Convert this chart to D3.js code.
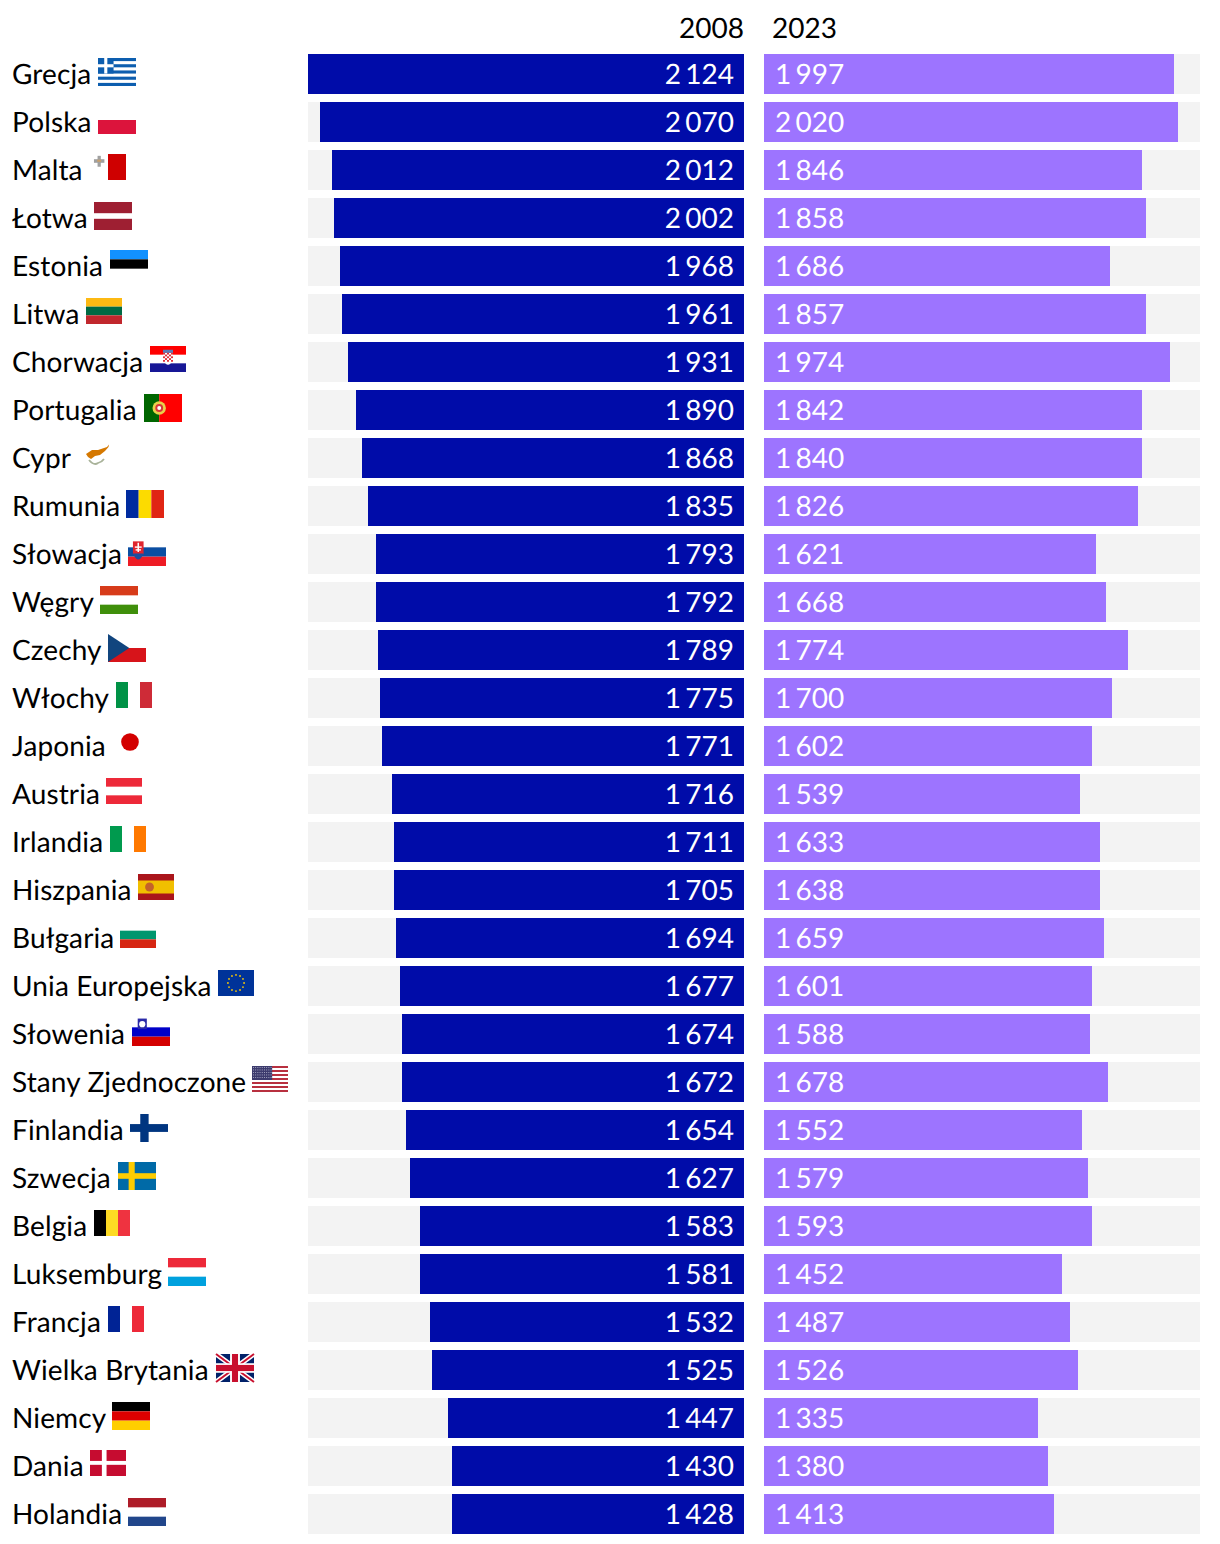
<!DOCTYPE html>
<html><head><meta charset="utf-8">
<script src="https://cdn.jsdelivr.net/npm/d3@7"></script>
<style>html,body{margin:0;padding:0;background:#fff}svg{display:block}text{font-family:Lato,sans-serif;font-size:28px;text-rendering:geometricPrecision}.val{word-spacing:-3px}.lab{letter-spacing:.12px}</style>
</head><body><svg id="c" width="1220" height="1544"></svg>
<script>
const countries=["Grecja","Polska","Malta","Łotwa","Estonia","Litwa","Chorwacja","Portugalia","Cypr","Rumunia","Słowacja","Węgry","Czechy","Włochy","Japonia","Austria","Irlandia","Hiszpania","Bułgaria","Unia Europejska","Słowenia","Stany Zjednoczone","Finlandia","Szwecja","Belgia","Luksemburg","Francja","Wielka Brytania","Niemcy","Dania","Holandia"];
const flagCodes=["gr","pl","mt","lv","ee","lt","hr","pt","cy","ro","sk","hu","cz","it","jp","at","ie","es","bg","eu","si","us","fi","se","be","lu","fr","gb","de","dk","nl"];
const values2008=[2124,2070,2012,2002,1968,1961,1931,1890,1868,1835,1793,1792,1789,1775,1771,1716,1711,1705,1694,1677,1674,1672,1654,1627,1583,1581,1532,1525,1447,1430,1428];
const values2023=[1997,2020,1846,1858,1686,1857,1974,1842,1840,1826,1621,1668,1774,1700,1602,1539,1633,1638,1659,1601,1588,1678,1552,1579,1593,1452,1487,1526,1335,1380,1413];
const seriesYears=["2008","2023"];
const narrowFlags=["mt","lt","hr","it","at","ie","es","bg","eu","us","be","fr","dk","jp","cy"];

const colors={left:"#000ca9",right:"#9d74ff",track:"#f3f3f3"};
const svg=d3.select("#c");
const fmt=d3.formatLocale({decimal:",",thousands:"\u00a0",grouping:[3],currency:["",""]}).format(",d");
const y=d3.scaleBand().domain(countries).range([54,1534]).paddingInner(1/6);
const w=d3.scaleLinear().domain([0,2124]).range([0,436]);
const leftEnd=744,rightStart=764;
const leftX=v=>Math.round(leftEnd/2+0.33-w(v)/2)*2;
const rightW=v=>Math.round(w(v)/2)*2;

[308,rightStart].forEach(x=>svg.append("g").selectAll("rect").data(countries).join("rect")
  .attr("x",x).attr("y",d=>y(d)).attr("width",436).attr("height",y.bandwidth()).attr("fill",colors.track));
svg.append("g").selectAll("rect").data(values2008).join("rect")
  .attr("x",d=>leftX(d)).attr("y",(d,i)=>y(countries[i])).attr("width",d=>leftEnd-leftX(d)).attr("height",y.bandwidth()).attr("fill",colors.left);
svg.append("g").selectAll("rect").data(values2023).join("rect")
  .attr("x",rightStart).attr("y",(d,i)=>y(countries[i])).attr("width",d=>rightW(d)).attr("height",y.bandwidth()).attr("fill",colors.right);
svg.append("g").selectAll("text").data(values2008).join("text").attr("class","val").text(d=>fmt(d))
  .attr("x",leftEnd-10).attr("y",(d,i)=>y(countries[i])+30).attr("text-anchor","end").attr("fill","#fff");
svg.append("g").selectAll("text").data(values2023).join("text").attr("class","val").text(d=>fmt(d))
  .attr("x",rightStart+11).attr("y",(d,i)=>y(countries[i])+30).attr("fill","#fff");
svg.append("text").text(seriesYears[0]).attr("x",leftEnd).attr("y",38).attr("text-anchor","end").attr("fill","#000");
svg.append("text").text(seriesYears[1]).attr("x",772).attr("y",38).attr("fill","#000");

function star(g,cx,cy,r,f){g.append("circle").attr("cx",cx).attr("cy",cy).attr("r",r).attr("fill",f);}
function R(g,x,y,w,h,f){g.append("rect").attr("x",x).attr("y",y).attr("width",w).attr("height",h).attr("fill",f);}
function hs(g,W,H,cs){cs.forEach((c,i)=>{if(c)R(g,0,H*i/cs.length,W,H/cs.length,c);});}
function vs(g,W,H,cs){cs.forEach((c,i)=>{if(c)R(g,W*i/cs.length,0,W/cs.length,H,c);});}
const painters={
 gr(g,W,H){const s=H/9;for(let i=0;i<9;i+=2)R(g,0,i*s,W,s,"#0d5eaf");R(g,0,0,5*s,5*s,"#0d5eaf");R(g,2*s,0,s,5*s,"#fff");R(g,0,2*s,5*s,s,"#fff");},
 pl(g,W,H){R(g,0,H/2,W,H/2,"#dc143c");},
 mt(g,W,H){R(g,W/2,0,W/2,H,"#cf0000");R(g,W*.11,H*.2,W*.29,H*.1+1,"#a0a0a0");R(g,W*.21,H*.07,W*.09,H*.42,"#a0a0a0");R(g,W*.2,H*.22,W*.11,H*.08,"#c9a06c");},
 lv(g,W,H){R(g,0,0,W,H*.4,"#9e1f32");R(g,0,H*.6,W,H*.4,"#9e1f32");},
 ee(g,W,H){hs(g,W,H,["#1291ff","#000",null]);},
 lt(g,W,H){hs(g,W,H,["#fdb913","#006a44","#c1272d"]);},
 hr(g,W,H){hs(g,W,H,["#f00",null,"#171796"]);const s=2,x0=W/2-2.5*s,y0=H*.26;R(g,x0,y0,5*s,3.6*s,"#fff");g.append("path").attr("d",`M${x0} ${y0+3.6*s} Q${W/2} ${H*.9} ${x0+5*s} ${y0+3.6*s} Z`).attr("fill","#fff");for(let i=0;i<5;i++)for(let j=0;j<5;j++)if((i+j)%2==0)R(g,x0+i*s,y0+j*s*.9,s,s*.9,"#e0313a");R(g,x0,y0-3,5*s,3,"#5a7db5");},
 pt(g,W,H){R(g,0,0,W*.4,H,"#006600");R(g,W*.4,0,W*.6,H,"#f00");g.append("circle").attr("cx",W*.4).attr("cy",H/2).attr("r",H*.24).attr("fill","#e8d24a");g.append("circle").attr("cx",W*.4).attr("cy",H/2).attr("r",H*.14).attr("fill","#d8353a");g.append("circle").attr("cx",W*.4).attr("cy",H/2).attr("r",H*.07).attr("fill","#fff");},
 cy(g,W,H){g.append("path").attr("d","M8 12 L14 8 L20 8 L29 5 L31 2.5 L30.5 5 L27 9 L22 13 L17 14 L13 17 L10 15 Z").attr("fill","#d57800");g.append("path").attr("d","M11 18 Q16 24 20 21 Q24 20 26 17").attr("fill","none").attr("stroke","#a9b39a").attr("stroke-width",1.8);},
 ro(g,W,H){vs(g,W,H,["#002b9f","#fcdb00","#e02514"]);},
 sk(g,W,H){hs(g,W,H,[null,"#0b4ea2","#ee1c25"]);R(g,W*.13,H*.12,W*.28,H*.46,"#e0252e");g.append("path").attr("d",`M${W*.13} ${H*.55} Q${W*.27} ${H*.98} ${W*.41} ${H*.55} Z`).attr("fill","#1b4f9f");R(g,W*.25,H*.17,W*.04,H*.33,"#fff");R(g,W*.18,H*.3,W*.18,H*.05,"#fff");R(g,W*.2,H*.4,W*.14,H*.05,"#fff");},
 hu(g,W,H){hs(g,W,H,["#d73b1a",null,"#3f8f0b"]);},
 cz(g,W,H){R(g,0,H/2,W,H/2,"#d7141a");g.append("path").attr("d",`M0 0 L${W*.56} ${H/2} L0 ${H} Z`).attr("fill","#11457e");},
 it(g,W,H){vs(g,W,H,["#009246",null,"#ce2b37"]);},
 jp(g,W,H){g.append("circle").attr("cx",W/2).attr("cy",H/2-1).attr("r",H*.34).attr("fill","#d30000");},
 at(g,W,H){hs(g,W,H,["#ed2939",null,"#ed2939"]);},
 ie(g,W,H){vs(g,W,H,["#009a4e",null,"#ff7900"]);},
 es(g,W,H){R(g,0,0,W,H,"#aa151b");R(g,0,H*.25,W,H*.5,"#f1bf00");g.append("circle").attr("cx",W*.32).attr("cy",H*.5).attr("r",H*.17).attr("fill","#c4622a");},
 bg(g,W,H){hs(g,W,H,[null,"#00966e","#d62612"]);},
 eu(g,W,H){R(g,0,0,W,H,"#003399");d3.range(12).forEach(i=>{const a=i*Math.PI/6;star(g,W/2+H*.31*Math.cos(a),H/2+H*.31*Math.sin(a),.9,"#ffcc00");});},
 si(g,W,H){hs(g,W,H,[null,"#0000c8","#d40000"]);R(g,W*.15,H*.02,W*.24,H*.38,"#2a2aa8");g.append("circle").attr("cx",W*.27).attr("cy",H*.22).attr("r",H*.11).attr("fill","#fff");},
 us(g,W,H){d3.range(13).forEach(i=>{if(i%2==0)R(g,0,i*H/13,W,H/13,"#b8303f");});R(g,0,0,W*.56,H*7/13,"#3c3b6e");for(let i=0;i<9;i++)for(let j=0;j<5;j++)R(g,1+i*2.2,1+j*2.5,.9,.9,"#b9bad0");},
 fi(g,W,H){R(g,W*.27,0,W*.22,H,"#003580");R(g,0,H*.36,W,H*.28,"#003580");},
 se(g,W,H){R(g,0,0,W,H,"#006aa7");R(g,W*.28,0,W*.16,H,"#fecc00");R(g,0,H*.4,W,H*.2,"#fecc00");},
 be(g,W,H){vs(g,W,H,["#000","#fdda24","#ef3340"]);},
 lu(g,W,H){hs(g,W,H,["#ed2939",null,"#00a1de"]);},
 fr(g,W,H){vs(g,W,H,["#002395",null,"#ed2939"]);},
 gb(g,W,H){R(g,0,0,W,H,"#012169");const L=(x1,y1,x2,y2,c,s)=>g.append("line").attr("x1",x1).attr("y1",y1).attr("x2",x2).attr("y2",y2).attr("stroke",c).attr("stroke-width",s);L(0,0,W,H,"#fff",5);L(W,0,0,H,"#fff",5);L(0,0,W,H,"#c8102e",2);L(W,0,0,H,"#c8102e",2);R(g,W*.37,0,W*.26,H,"#fff");R(g,0,H*.33,W,H*.34,"#fff");R(g,W*.42,0,W*.16,H,"#c8102e");R(g,0,H*.39,W,H*.22,"#c8102e");},
 de(g,W,H){hs(g,W,H,["#000","#d00","#ffce00"]);},
 dk(g,W,H){R(g,0,0,W,H,"#c60c30");R(g,W*.33,0,W*.13,H,"#fff");R(g,0,H*.42,W,H*.15,"#fff");},
 nl(g,W,H){hs(g,W,H,["#ae1c28",null,"#21468b"]);}
};

const rows=svg.append("g").selectAll("g").data(countries).join("g");
rows.append("text").attr("class","lab").text(d=>d).attr("x",12).attr("y",d=>y(d)+30).attr("fill","#000");
rows.each(function(d,i){
  const sel=d3.select(this);
  const end=12+sel.select("text").node().getComputedTextLength();
  const code=flagCodes[i];
  const narrow=narrowFlags.includes(code);
  const W=narrow?36:38,H=narrow?26:28;
  const g=sel.append("g").attr("transform",`translate(${Math.round((end+6.5)/2)*2},${y(d)+4})`);
  painters[code](g,W,H);
});
</script></body></html>
